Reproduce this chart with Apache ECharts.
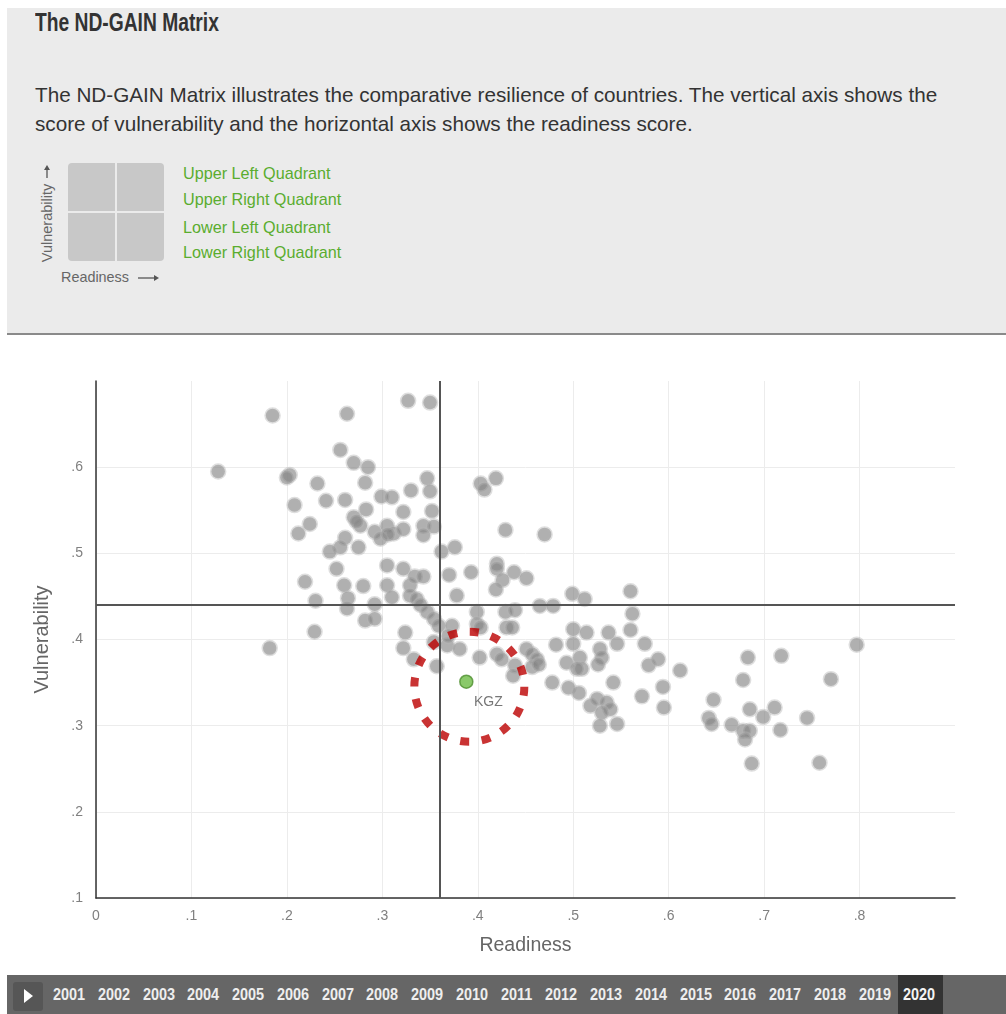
<!DOCTYPE html>
<html>
<head>
<meta charset="utf-8">
<script src="https://cdn.jsdelivr.net/npm/echarts@6/dist/echarts.min.js"></script>
<style>
html,body{margin:0;padding:0;background:#fff;width:1006px;height:1014px;overflow:hidden;font-family:"Liberation Sans",Arial,sans-serif;}
#panel{position:absolute;left:7px;top:8px;width:999px;height:325px;background:#ebebeb;border-bottom:2px solid #8a8a8a;}
#title{position:absolute;left:28px;top:1px;font-family:"Liberation Sans",sans-serif;font-weight:bold;font-size:26px;line-height:26px;color:#333;white-space:nowrap;transform:scaleX(0.74);transform-origin:0 0;}
#desc{position:absolute;left:28px;top:72px;font-size:20.7px;line-height:29px;color:#333;white-space:nowrap;}
.cell{position:absolute;background:#c8c8c8;width:47px;height:48px;}
.qlab{position:absolute;left:176px;font-size:16.2px;line-height:18px;color:#5aad2f;white-space:nowrap;}
#vlab{position:absolute;left:40px;top:215px;width:0;height:0;}
#vlab span{position:absolute;left:0;top:0;transform:translate(-50%,-50%) rotate(-90deg);font-size:14.5px;line-height:16px;color:#666;white-space:nowrap;}
#rlab{position:absolute;left:54px;top:261px;font-size:14.4px;line-height:17px;color:#666;white-space:nowrap;}
#chart{position:absolute;left:0;top:336px;width:1006px;height:636px;}
#timeline{position:absolute;left:7px;top:975px;width:999px;height:39px;background:#666;}
#play{position:absolute;left:6px;top:7px;width:30px;height:29px;background:#565656;border-radius:3px;}
.yr{position:absolute;top:0;height:39px;line-height:40px;font-family:"Liberation Sans",sans-serif;font-weight:bold;font-size:17px;color:#eee;transform:scaleX(0.85);transform-origin:0 50%;}
#sel{position:absolute;left:891px;top:0;width:45px;height:39px;background:#333;}
</style>
</head>
<body>
<div id="panel">
  <div id="title">The ND-GAIN Matrix</div>
  <div id="desc">The ND-GAIN Matrix illustrates the comparative resilience of countries. The vertical axis shows the<br>score of vulnerability and the horizontal axis shows the readiness score.</div>
  <div class="cell" style="left:61px;top:155px;border-top-left-radius:4px;"></div>
  <div class="cell" style="left:110px;top:155px;border-top-right-radius:4px;"></div>
  <div class="cell" style="left:61px;top:205px;border-bottom-left-radius:4px;"></div>
  <div class="cell" style="left:110px;top:205px;border-bottom-right-radius:4px;"></div>
  <div id="vlab"><span>Vulnerability</span></div>
  <svg style="position:absolute;left:35px;top:157px" width="10" height="14"><line x1="5" y1="13" x2="5" y2="3" stroke="#555" stroke-width="1.3"/><polygon points="2,5 5,0 8,5" fill="#555"/></svg>
  <div id="rlab">Readiness</div>
  <svg style="position:absolute;left:131px;top:265px" width="22" height="10"><line x1="0" y1="5" x2="18" y2="5" stroke="#555" stroke-width="1.3"/><polygon points="16,2 21,5 16,8" fill="#555"/></svg>
  <div class="qlab" style="top:156px">Upper Left Quadrant</div>
  <div class="qlab" style="top:182px">Upper Right Quadrant</div>
  <div class="qlab" style="top:210px">Lower Left Quadrant</div>
  <div class="qlab" style="top:235px">Lower Right Quadrant</div>
</div>
<div id="chart"></div>
<div id="timeline">
  <div id="play"><svg width="30" height="29"><polygon points="11,7 11,21 20,14" fill="#fff"/></svg></div>
  <div id="sel"></div>
</div>
<script>
// ---- data ----
const years = ['2001','2002','2003','2004','2005','2006','2007','2008','2009','2010','2011','2012','2013','2014','2015','2016','2017','2018','2019','2020'];
const selectedYear = '2020';
const readinessMedian = 0.364;
const vulnerabilityMedian = 0.437;
const kgzReadiness = 0.388;
const kgzVulnerability = 0.351;
const readiness = [
0.185,0.263,0.327,0.350,0.128,0.203,0.200,0.256,0.270,0.285,
0.282,0.232,0.208,0.241,0.261,0.299,0.310,0.330,0.347,0.350,
0.224,0.212,0.270,0.283,0.277,0.273,0.322,0.352,0.292,0.298,
0.305,0.312,0.322,0.306,0.343,0.354,0.343,0.261,0.256,0.245,
0.275,0.362,0.305,0.322,0.252,0.219,0.260,0.280,0.305,0.310,
0.329,0.334,0.343,0.329,0.230,0.264,0.292,0.336,0.340,0.376,
0.403,0.407,0.419,0.429,0.470,0.370,0.393,0.420,0.420,0.438,
0.451,0.426,0.419,0.378,0.465,0.479,0.499,0.512,0.560,0.263,
0.347,0.282,0.292,0.354,0.359,0.229,0.324,0.322,0.333,0.357,
0.354,0.182,0.368,0.373,0.381,0.369,0.399,0.399,0.403,0.402,
0.429,0.439,0.430,0.436,0.420,0.425,0.439,0.437,0.451,0.457,
0.462,0.457,0.464,0.482,0.478,0.493,0.500,0.500,0.507,0.509,
0.504,0.514,0.528,0.530,0.526,0.537,0.495,0.506,0.518,0.525,
0.535,0.539,0.530,0.542,0.528,0.546,0.562,0.560,0.546,0.575,
0.579,0.589,0.612,0.594,0.572,0.595,0.647,0.642,0.645,0.666,
0.678,0.685,0.680,0.683,0.678,0.685,0.699,0.711,0.717,0.718,
0.745,0.770,0.797,0.687,0.758
];
const vulnerability = [
0.660,0.662,0.677,0.675,0.595,0.591,0.588,0.620,0.605,0.600,
0.582,0.581,0.556,0.561,0.562,0.566,0.565,0.573,0.587,0.572,
0.534,0.523,0.542,0.551,0.532,0.537,0.548,0.549,0.525,0.517,
0.532,0.523,0.528,0.522,0.532,0.531,0.521,0.518,0.507,0.502,
0.507,0.502,0.486,0.482,0.482,0.467,0.463,0.462,0.463,0.449,
0.463,0.473,0.473,0.451,0.445,0.448,0.441,0.447,0.440,0.507,
0.581,0.574,0.587,0.527,0.522,0.475,0.478,0.488,0.482,0.478,
0.471,0.469,0.458,0.451,0.439,0.439,0.453,0.447,0.456,0.436,
0.432,0.422,0.424,0.424,0.416,0.409,0.408,0.390,0.377,0.369,
0.397,0.390,0.393,0.416,0.389,0.404,0.432,0.418,0.414,0.379,
0.432,0.434,0.414,0.414,0.383,0.377,0.370,0.358,0.389,0.383,
0.377,0.368,0.371,0.394,0.350,0.373,0.395,0.412,0.379,0.366,
0.366,0.408,0.389,0.379,0.371,0.408,0.344,0.338,0.323,0.331,
0.327,0.319,0.315,0.350,0.300,0.302,0.430,0.411,0.395,0.395,
0.370,0.377,0.364,0.345,0.334,0.321,0.330,0.309,0.302,0.301,
0.294,0.294,0.284,0.379,0.353,0.319,0.310,0.321,0.295,0.381,
0.309,0.354,0.394,0.256,0.257
];

// ---- timeline labels ----
const tl = document.getElementById('timeline');
years.forEach((y, i) => {
  const d = document.createElement('div');
  d.className = 'yr';
  d.style.left = (46 + i * 44.75) + 'px';
  d.textContent = y;
  if (y === selectedYear) d.style.color = '#f4f4f4';
  tl.appendChild(d);
});

// ---- chart ----
const countries = readiness.map((r, i) => [r, vulnerability[i]]);
const chart = echarts.init(document.getElementById('chart'));
const fmt = (v, hideMax) => {
  if (Math.abs(v - hideMax) < 1e-6) return '';
  if (Math.abs(v) < 1e-9) return '0';
  return '.' + Math.round(v * 10);
};
const gridC = '#ececec';
chart.setOption({
  animation: false,
  textStyle: { fontFamily: 'Liberation Sans, Arial, sans-serif' },
  grid: { left: 96, right: 51, top: 45, bottom: 74 },
  xAxis: {
    type: 'value', min: 0, max: 0.9, interval: 0.1,
    name: 'Readiness', nameLocation: 'middle', nameGap: 38,
    nameTextStyle: { fontSize: 19.5, color: '#666' },
    axisLine: { show: true, lineStyle: { color: '#333', width: 1.5 } },
    axisTick: { show: false },
    axisLabel: { color: '#808080', fontSize: 14, margin: 11, formatter: v => fmt(v, 0.9) },
    splitLine: { show: true, lineStyle: { color: [gridC,gridC,gridC,gridC,gridC,gridC,gridC,gridC,gridC,'rgba(0,0,0,0)'], width: 1 } }
  },
  yAxis: {
    type: 'value', min: 0.1, max: 0.7, interval: 0.1,
    name: 'Vulnerability', nameLocation: 'middle', nameGap: 44,
    nameTextStyle: { fontSize: 20, color: '#666' },
    axisLine: { show: true, lineStyle: { color: '#333', width: 1.5 } },
    axisTick: { show: false },
    axisLabel: { color: '#808080', fontSize: 14, margin: 13, formatter: v => fmt(v, 0.7) },
    splitLine: { show: true, lineStyle: { color: [gridC,gridC,gridC,gridC,gridC,gridC,'rgba(0,0,0,0)'], width: 1 } }
  },
  series: [
    {
      type: 'scatter', data: [], z: 1, silent: true,
      markLine: {
        silent: true, symbol: 'none', animation: false,
        label: { show: false },
        lineStyle: { color: '#555', width: 2, type: 'solid' },
        data: [{ xAxis: readinessMedian }, { yAxis: vulnerabilityMedian }]
      }
    },
    {
      type: 'scatter', data: countries, z: 2, symbolSize: 13.5,
      itemStyle: { color: 'rgba(132,132,132,0.8)', borderColor: 'rgba(180,180,180,0.55)', borderWidth: 3 }
    },
    {
      type: 'scatter', data: [[kgzReadiness, kgzVulnerability]], z: 3, silent: true,
      symbolSize: 110, symbolOffset: [3, 5],
      itemStyle: { color: 'rgba(0,0,0,0)', borderColor: '#bb0000', borderWidth: 8, borderType: [9, 12.6] }
    },
    {
      type: 'scatter', data: [[kgzReadiness, kgzVulnerability]], z: 4, symbolSize: 13,
      itemStyle: { color: '#6dbb45', borderColor: '#4d8f2e', borderWidth: 1.5 },
      label: { show: true, formatter: 'KGZ', position: 'bottom', distance: 6, offset: [22, 0], color: '#555', fontSize: 14 }
    }
  ]
});
</script>
</body>
</html>
